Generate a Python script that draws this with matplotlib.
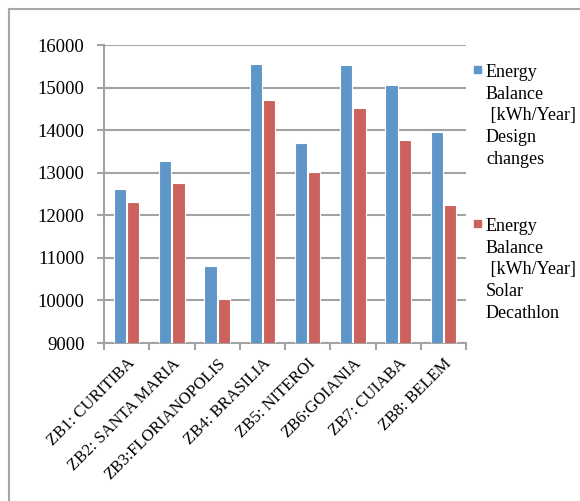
import matplotlib.pyplot as plt
import numpy as np
from matplotlib.patches import Rectangle
from matplotlib.lines import Line2D

cities = ['ZB1: CURITIBA', 'ZB2: SANTA MARIA', 'ZB3:FLORIANOPOLIS', 'ZB4: BRASILIA',
          'ZB5: NITEROI', 'ZB6:GOIANIA', 'ZB7: CUIABA', 'ZB8: BELEM']
design_changes = [12620, 13280, 10800, 15550, 13690, 15530, 15060, 13950]
solar_decathlon = [12320, 12750, 10040, 14710, 13010, 14520, 13770, 12230]
labels = ['Energy\nBalance\n [kWh/Year]\nDesign\nchanges',
          'Energy\nBalance\n [kWh/Year]\nSolar\nDecathlon']
colors = ['#5F96C9', '#CC625E']

plt.rcParams['font.family'] = ['Liberation Serif', 'DejaVu Serif']

fig = plt.figure(figsize=(5.8, 5.01), dpi=100)
ax = fig.add_axes([104/580, 158/501, 362/580, 298/501])

x = np.arange(len(cities))
w = 0.27
for vals, off, c in [(design_changes, -0.145, colors[0]), (solar_decathlon, 0.145, colors[1])]:
    ax.bar(x + off, vals, width=w, color=c, edgecolor='white', linewidth=0.8, zorder=3)

ax.set_xlim(-0.5, len(cities) - 0.5)
ax.set_ylim(9000, 16000)
ax.set_yticks(range(9000, 16001, 1000))
ax.grid(axis='y', color='#a3a3a3', linewidth=1.5, zorder=0)
ax.set_xticks(x)
ax.set_xticklabels(cities, rotation=45, ha='right', va='top', rotation_mode='anchor', fontsize=12)
ax.set_xticks(np.arange(-0.5, len(cities)), minor=True)
ax.tick_params(axis='x', which='major', length=0, pad=9)
ax.tick_params(axis='x', which='minor', length=5, width=1.5, color='#a3a3a3')
ax.tick_params(axis='y', length=5, width=1.5, color='#a3a3a3', labelsize=13.5, pad=9)
for s in ['top', 'right']:
    ax.spines[s].set_visible(False)
for s in ['left', 'bottom']:
    ax.spines[s].set_color('#a3a3a3')
    ax.spines[s].set_linewidth(1.5)

# chart frame
fig.add_artist(Line2D([9/580, 1.0], [1 - 9/501] * 2, color='#a8a8a8', lw=1.5))
fig.add_artist(Line2D([9/580] * 2, [0, 1 - 9/501], color='#a8a8a8', lw=1.5))

# legend
for i, (lab, c) in enumerate(zip(labels, colors)):
    ytop = 64 + i * 154
    fig.add_artist(Rectangle((474/580, 1 - (ytop + 9)/501), 7/580, 7/501, color=c))
    fig.text(486/580, 1 - ytop/501, lab, fontsize=13, va='top', ha='left', linespacing=1.36)

fig.savefig('out.png', dpi=100)
